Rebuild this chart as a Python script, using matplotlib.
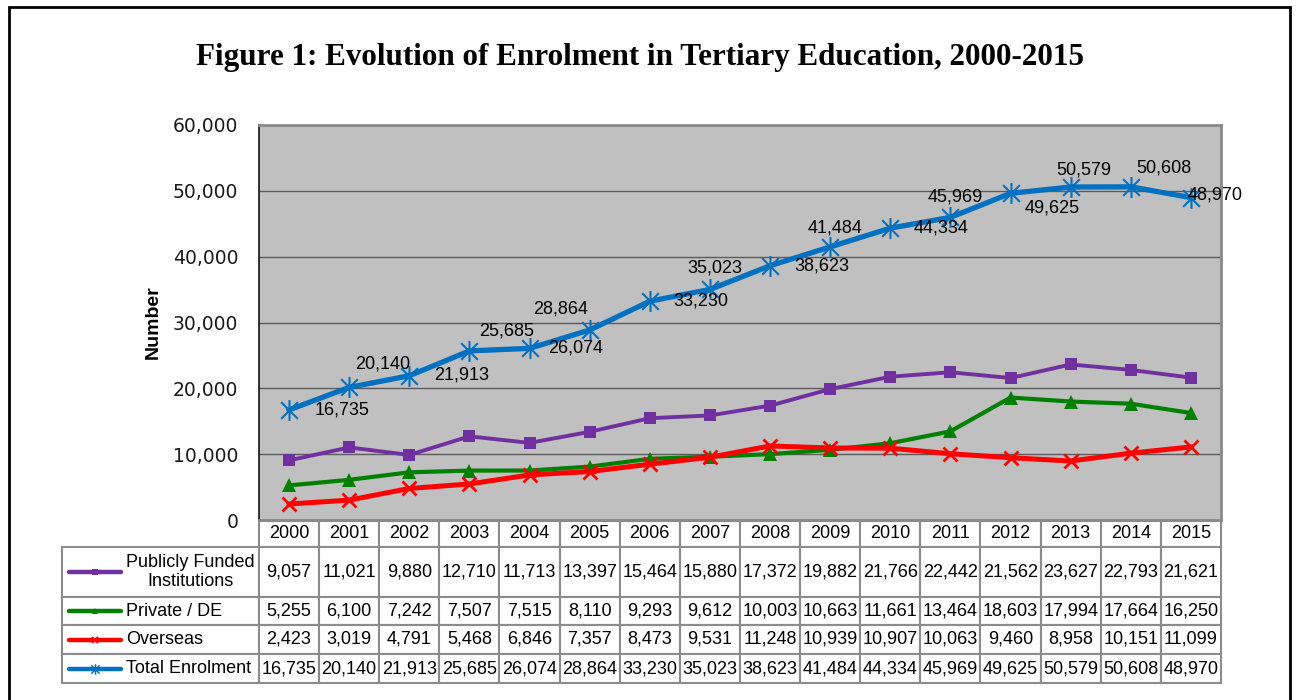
import numpy as np
import matplotlib
matplotlib.use('Agg')
import matplotlib.pyplot as plt
from matplotlib.lines import Line2D
from matplotlib.patches import Rectangle
from matplotlib.path import Path
from matplotlib.table import Table
from matplotlib.ticker import FuncFormatter

plt.rcParams['font.family'] = ['Liberation Sans', 'DejaVu Sans']

years = ['2000', '2001', '2002', '2003', '2004', '2005', '2006', '2007',
         '2008', '2009', '2010', '2011', '2012', '2013', '2014', '2015']
publicly_funded = [9057, 11021, 9880, 12710, 11713, 13397, 15464, 15880,
                   17372, 19882, 21766, 22442, 21562, 23627, 22793, 21621]
private_de = [5255, 6100, 7242, 7507, 7515, 8110, 9293, 9612,
              10003, 10663, 11661, 13464, 18603, 17994, 17664, 16250]
overseas = [2423, 3019, 4791, 5468, 6846, 7357, 8473, 9531,
            11248, 10939, 10907, 10063, 9460, 8958, 10151, 11099]
total = [16735, 20140, 21913, 25685, 26074, 28864, 33230, 35023,
         38623, 41484, 44334, 45969, 49625, 50579, 50608, 48970]
series_names = ['Publicly Funded\nInstitutions', 'Private / DE', 'Overseas', 'Total Enrolment']

# label offsets of the total line labels (pixels, right / down)
label_offsets = [(53, 0), (33, -23), (52, -1), (37, -20), (46, 0), (-29, -21), (51, 0), (5, -21),
                 (52, 0), (5, -19), (51, 0), (5, -20), (42, 15), (13, -17), (33, -19), (24, -3)]

W, H = 1296, 700
ax_l, ax_r, ax_t, ax_b = 259, 1221, 125, 520
FS = 13

# star marker like excel (vertical bar + X)
star = Path([(0, -1), (0, 1), (-0.8, -0.8), (0.8, 0.8), (-0.8, 0.8), (0.8, -0.8)],
            [Path.MOVETO, Path.LINETO] * 3)

styles = [dict(color='#7030A0', lw=2.8, marker='s', ms=9, mew=0),
          dict(color='#008000', lw=3.0, marker='^', ms=10, mew=0),
          dict(color='#FF0000', lw=3.6, marker='x', ms=10, mew=2),
          dict(color='#0070C0', lw=3.8, marker=star, ms=15, mew=1.5)]

fig = plt.figure(figsize=(W / 100, H / 100), dpi=100)
ax = fig.add_axes([ax_l / W, 1 - ax_b / H, (ax_r - ax_l) / W, (ax_b - ax_t) / H])
ax.set_facecolor('#C0C0C0')

x = np.arange(len(years))
for vals, st in zip([publicly_funded, private_de, overseas, total], styles):
    ax.plot(x, vals, zorder=3, **st)

for xi, v, (dx, dy) in zip(x, total, label_offsets):
    ax.annotate('{:,}'.format(v), (xi, v), xytext=(dx * 0.72, -dy * 0.72), textcoords='offset points',
                ha='center', va='center', fontsize=FS, color='black', zorder=5)

ax.set_xlim(-0.5, len(years) - 0.5)
ax.set_ylim(0, 60000)
ax.set_yticks([0, 10000, 20000, 30000, 40000, 50000, 60000])
ax.yaxis.set_major_formatter(FuncFormatter(lambda v, p: '{:,.0f}'.format(v)))
ax.tick_params(axis='y', length=0, pad=15, labelsize=13.5, labelcolor='#1a1a1a')
for lbl in ax.get_yticklabels():
    lbl.set_fontfamily('DejaVu Sans')
ax.set_xticks([])
ax.yaxis.grid(True, color='#5a5a5a', lw=1)
ax.set_axisbelow(True)
for side in ['top', 'right', 'bottom']:
    ax.spines[side].set_color('#8a8a8a')
    ax.spines[side].set_linewidth(2)
ax.spines['left'].set_color('#222222')
ax.spines['left'].set_linewidth(1.3)

ax.set_ylabel('Number', fontsize=14, fontweight='bold')
ax.yaxis.set_label_coords((162 - ax_l) / (ax_r - ax_l), 0.5)

# data table under the chart
def to_ax(px, py):
    return (px - ax_l) / (ax_r - ax_l), (ax_b - py) / (ax_b - ax_t)

tbl_left, tbl_top = 62, 521
row_h = [26, 50, 28, 29, 29]
lab_w = ax_l - tbl_left
col_w = (ax_r - ax_l) / len(years)

cell_text = [['{:,}'.format(v) for v in s] for s in [publicly_funded, private_de, overseas, total]]
x0, y0 = to_ax(tbl_left, tbl_top + sum(row_h))
tbl = Table(ax, bbox=[x0, y0, 1 - x0, sum(row_h) / (ax_b - ax_t)])
for c, yr in enumerate(years):
    tbl.add_cell(0, c + 1, col_w, row_h[0], text=yr, loc='center')
for r, row in enumerate(cell_text):
    tbl.add_cell(r + 1, 0, lab_w, row_h[r + 1], text='')
    for c, txt in enumerate(row):
        tbl.add_cell(r + 1, c + 1, col_w, row_h[r + 1], text=txt, loc='center')
tbl.auto_set_font_size(False)
tbl.set_fontsize(FS)
for cell in tbl.get_celld().values():
    cell.set_edgecolor('#8c8c8c')
    cell.set_linewidth(1.5)
    cell.PAD = 0.02
ax.add_table(tbl)

# legend keys inside the first table column
row_top = tbl_top + row_h[0]
for i, (name, st) in enumerate(zip(series_names, styles)):
    cy = row_top + row_h[i + 1] / 2
    row_top += row_h[i + 1]
    sx0, sy = to_ax(69, cy)
    sx1, _ = to_ax(121, cy)
    ln = Line2D([sx0, (sx0 + sx1) / 2, sx1], [sy, sy, sy], transform=ax.transAxes, markevery=[1],
                color=st['color'], lw=3.2, marker=st['marker'], ms=st['ms'] * 0.5,
                mew=st['mew'] * 0.7, solid_capstyle='round', clip_on=False)
    ax.add_line(ln)
    tx, _ = to_ax(126, cy)
    ax.text(tx, sy, name, transform=ax.transAxes, ha='left', va='center', multialignment='center',
            fontsize=FS, clip_on=False)

fig.text(640 / W, 1 - 57 / H, 'Figure 1: Evolution of Enrolment in Tertiary Education, 2000-2015',
         ha='center', va='center', fontsize=22.4, fontweight='bold', family='Liberation Serif')

fig.add_artist(Rectangle((9 / W, -0.05), (1290 - 9) / W, 1.05 - 7 / H, transform=fig.transFigure,
                         fill=False, ec='black', lw=2))

fig.savefig('out.png', dpi=100)
